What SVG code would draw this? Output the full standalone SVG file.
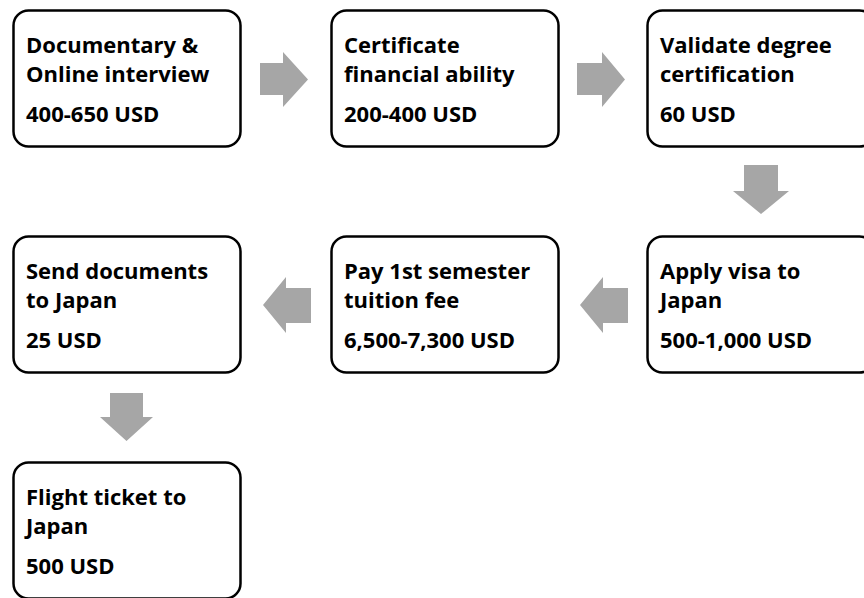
<svg xmlns="http://www.w3.org/2000/svg" width="864" height="598" viewBox="0 0 864 598">
<style>
.box{fill:#fff;stroke:#000;stroke-width:2.5}
.t{font-family:"Open Sans","Liberation Sans",sans-serif;font-weight:bold;font-size:22px;fill:#000}
.arr{fill:#a6a6a6}
</style>
<rect width="864" height="598" fill="#fff"/>
<g id="connectors">
<polygon class="arr" points="260,63 283,63 283,52 308,79.5 283,107 283,95 260,95"/>
<polygon class="arr" points="577,63 602,63 602,52 625,79.5 602,107 602,95 577,95"/>
<polygon class="arr" points="744,165 778,165 778,191 789,191 761,214 733,191 744,191"/>
<polygon class="arr" points="628,288 603,288 603,277 580,305 603,333 603,323 628,323"/>
<polygon class="arr" points="311,288 286,288 286,277 263,305 286,333 286,323 311,323"/>
<polygon class="arr" points="110,393 143,393 143,417 153,417 126.5,441 100,417 110,417"/>
</g>
<g id="n1"><rect class="box" x="13.5" y="10.5" width="227" height="136" rx="15"/>
<text class="t" x="26" y="53">Documentary &amp;</text><text class="t" x="26" y="82">Online interview</text><text class="t" x="26" y="122">400-650 USD</text></g>
<g id="n2"><rect class="box" x="331.5" y="10.5" width="227" height="136" rx="15"/>
<text class="t" x="344" y="53">Certificate</text><text class="t" x="344" y="82">financial ability</text><text class="t" x="344" y="122">200-400 USD</text></g>
<g id="n3"><rect class="box" x="647.5" y="10.5" width="227" height="136" rx="15"/>
<text class="t" x="660" y="53">Validate degree</text><text class="t" x="660" y="82">certification</text><text class="t" x="660" y="122">60 USD</text></g>
<g id="n4"><rect class="box" x="13.5" y="236.5" width="227" height="136" rx="15"/>
<text class="t" x="26" y="279">Send documents</text><text class="t" x="26" y="308">to Japan</text><text class="t" x="26" y="348">25 USD</text></g>
<g id="n5"><rect class="box" x="331.5" y="236.5" width="227" height="136" rx="15"/>
<text class="t" x="344" y="279">Pay 1st semester</text><text class="t" x="344" y="308">tuition fee</text><text class="t" x="344" y="348">6,500-7,300 USD</text></g>
<g id="n6"><rect class="box" x="647.5" y="236.5" width="227" height="136" rx="15"/>
<text class="t" x="660" y="279">Apply visa to</text><text class="t" x="660" y="308">Japan</text><text class="t" x="660" y="348">500-1,000 USD</text></g>
<g id="n7"><rect class="box" x="13.5" y="462.5" width="227" height="136" rx="15"/>
<text class="t" x="26" y="505">Flight ticket to</text><text class="t" x="26" y="534">Japan</text><text class="t" x="26" y="574">500 USD</text></g>
</svg>
